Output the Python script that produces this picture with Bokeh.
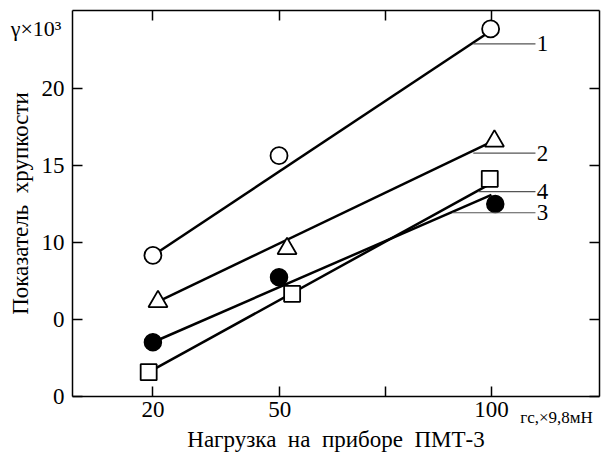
from bokeh.plotting import figure
from bokeh.models import LinearAxis, FixedTicker, Range1d, Label
from bokeh.embed import file_html
from bokeh.resources import INLINE

# ---- data ----
series_names = ["1", "2", "3", "4"]

s1_x = [20.0, 49.8, 99.8]
s1_y = [9.15, 15.65, 23.9]
s2_x = [21.2, 51.7, 100.7]
s2_y = [6.15, 9.6, 16.6]
s3_x = [20.0, 49.8, 100.9]
s3_y = [3.5, 7.73, 12.5]
s4_x = [19.0, 52.9, 99.6]
s4_y = [1.55, 6.65, 14.14]

fit1_x = [20.0, 100.0]
fit1_y = [9.15, 23.8]
fit2_x = [21.2, 100.0]
fit2_y = [6.15, 16.55]
fit3_x = [20.0, 100.0]
fit3_y = [3.5, 13.1]
fit4_x = [19.0, 99.6]
fit4_y = [1.55, 13.8]

x_ticks = [20, 50, 75, 100]
x_tick_labels = ["20", "50", "", "100"]
y_ticks = [0, 5, 10, 15, 20]
y_tick_labels = ["0", "0", "10", "15", "20"]

# axis box limits (data units)
X0, X1 = 1.0, 125.6
Y0, Y1 = 0.0, 25.1

# ---- figure: the frame spans the whole canvas, the axes sit at fixed locations ----
FONT = "Liberation Serif"
SP = " \u00a0"  # wide gap between words, as in the reference
W, H = 602, 459
PX_L, PX_R, PX_T, PX_B = 72.0, 599.3, 10.0, 395.5
kx = (PX_R - PX_L) / (X1 - X0)
ky = (PX_B - PX_T) / (Y1 - Y0)
x_range = Range1d(X0 - PX_L / kx, X1 + (W - PX_R) / kx)
y_range = Range1d(Y0 - (H - PX_B) / ky, Y1 + PX_T / ky)

p = figure(width=W, height=H, x_range=x_range, y_range=y_range,
           output_backend="svg", toolbar_location=None,
           x_axis_location=None, y_axis_location=None,
           min_border_left=0, min_border_right=0,
           min_border_top=0, min_border_bottom=0)
p.grid.visible = False
p.outline_line_color = None
p.background_fill_color = "white"
p.border_fill_color = "white"


def style_axis(ax):
    ax.major_tick_in = 10
    ax.major_tick_out = 0
    ax.minor_tick_line_color = None
    ax.axis_line_color = "black"
    ax.axis_line_width = 1.5
    ax.major_tick_line_color = "black"
    ax.major_tick_line_width = 1.5
    ax.major_label_text_font = FONT
    ax.major_label_text_color = "black"
    ax.major_label_text_font_size = "23px"
    ax.axis_label_text_font = FONT
    ax.axis_label_text_font_style = "normal"
    ax.axis_label_text_color = "black"
    ax.axis_label_text_font_size = "23px"


xb = LinearAxis(ticker=FixedTicker(ticks=x_ticks), fixed_location=Y0, bounds=(X0, X1),
                major_label_overrides={t: l for t, l in zip(x_ticks, x_tick_labels)},
                axis_label=SP.join(["Нагрузка", "на", "приборе", "ПМТ-3"]))
style_axis(xb)
xb.major_label_standoff = 6
xb.axis_label_standoff = 6
p.add_layout(xb, "below")

xt = LinearAxis(ticker=FixedTicker(ticks=x_ticks), fixed_location=Y1, bounds=(X0, X1),
                major_label_overrides={t: "" for t in x_ticks})
style_axis(xt)
p.add_layout(xt, "above")

yl = LinearAxis(ticker=FixedTicker(ticks=y_ticks), fixed_location=X0, bounds=(Y0, Y1),
                major_label_overrides={t: l for t, l in zip(y_ticks, y_tick_labels)},
                axis_label=SP.join(["Показатель", "хрупкости"]))
style_axis(yl)
yl.major_label_standoff = 8
yl.axis_label_standoff = 6
p.add_layout(yl, "left")

yr = LinearAxis(ticker=FixedTicker(ticks=y_ticks), fixed_location=X1, bounds=(Y0, Y1),
                major_label_overrides={t: "" for t in y_ticks})
style_axis(yr)
p.add_layout(yr, "right")

# ---- fitted lines ----
for fx, fy in [(fit1_x, fit1_y), (fit2_x, fit2_y), (fit3_x, fit3_y), (fit4_x, fit4_y)]:
    p.line(fx, fy, line_color="black", line_width=2.5)

# ---- markers ----
p.scatter(s1_x, s1_y, marker="circle", size=17, fill_color="white",
          line_color="black", line_width=1.8)
p.scatter(s2_x, s2_y, marker="triangle", size=19, fill_color="white",
          line_color="black", line_width=1.8)
p.scatter(s3_x, s3_y, marker="circle", size=17, fill_color="black",
          line_color="black", line_width=1.5)
p.scatter(s4_x, s4_y, marker="square", size=16, fill_color="white",
          line_color="black", line_width=1.8)

# ---- curve labels with leader lines ----
leader_x0 = [95.7, 95.7, 90.8, 96.9]
leader_y = [22.93, 15.81, 11.93, 13.31]
p.segment(x0=leader_x0, y0=leader_y, x1=[110.4] * 4, y1=leader_y,
          line_color="#555555", line_width=1.2)
for name, ly in zip(series_names, leader_y):
    p.add_layout(Label(x=110.7, y=ly, text=name, text_font=FONT,
                       text_font_size="23px", text_baseline="middle",
                       text_align="left", text_color="black"))

# ---- unit annotations beside the axes ----
p.add_layout(Label(x=-13.6, y=23.93, text="γ×10³", text_font=FONT,
                   text_font_size="22px", text_baseline="alphabetic",
                   text_align="left", text_color="black"))
p.add_layout(Label(x=106.8, y=-1.4, text="гс,×9,8мН", text_font=FONT,
                   text_font_size="17px", text_baseline="alphabetic",
                   text_align="left", text_color="black"))

open("out.html", "w").write(file_html(p, INLINE))
